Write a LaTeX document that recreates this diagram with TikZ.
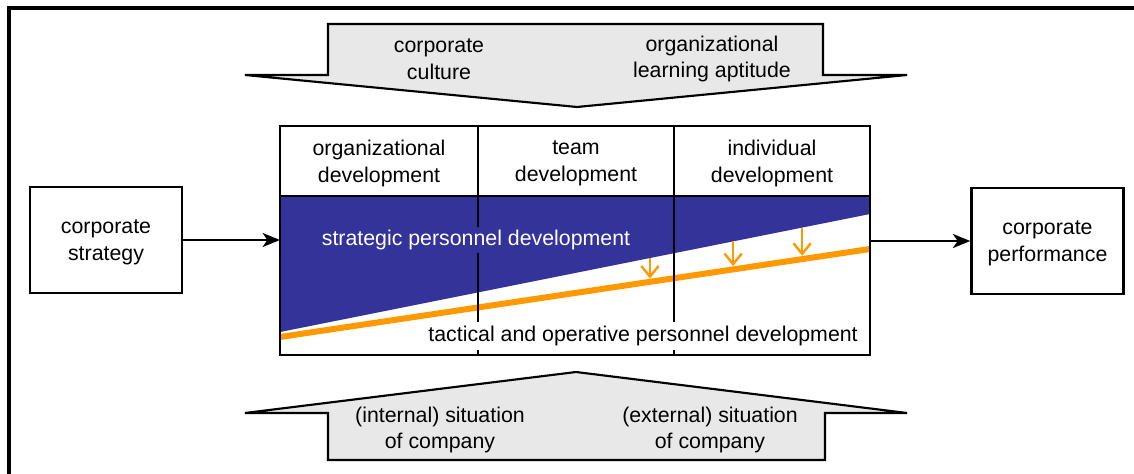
\documentclass[tikz,border=0pt]{standalone}
\usepackage{fontspec}
\setmainfont{Liberation Sans}
\usetikzlibrary{arrows.meta,calc}
\definecolor{stratblue}{RGB}{51,51,153}
\definecolor{tactorange}{RGB}{255,153,0}
\definecolor{influgray}{RGB}{232,232,232}

\begin{document}
\begin{tikzpicture}[x=0.75pt,y=0.75pt,yscale=-1,xscale=1,
		font=\fontsize{16}{20}\selectfont,
		sidebox/.style={draw,line width=1.8pt,align=center,minimum width=114pt,minimum height=79.5pt,text depth=0pt},
		headcell/.style={draw,line width=1.8pt,align=center,minimum height=52.5pt,outer sep=0pt,text depth=0pt},
		influence/.style={draw,line width=1.6pt,fill=influgray},
		influtext/.style={align=center,inner sep=0.75pt},
		flow/.style={line width=1.8pt,-{Stealth[length=13pt,width=10.5pt,inset=3.5pt]}},
		shiftarrow/.style={tactorange,line width=1.8pt,shorten >=2.5pt,-{Straight Barb[length=8pt,width=13pt]}}]
		\useasboundingbox (0,0) rectangle (1134,474);
		\draw [line width=2.4pt] (9,474) -- (9,8) -- (1134,8) ;
		\draw [influence] (328,24) -- (823,24) -- (823,75) -- (907,75) -- (577,107) -- (245,75) -- (328,75) -- cycle ;
		\draw [influence] (328,460) -- (825,460) -- (825,413) -- (907,413) -- (576,372) -- (245,413) -- (328,413) -- cycle ;
		\node [influtext] (culture) at (439,59) {corporate\\culture};
		\node [influtext] (learning) at (712,59) {organizational\\learning aptitude};
		\node [influtext] (intsit) at (440,430) {(internal) situation\\of company};
		\node [influtext] (extsit) at (710,430) {(external) situation\\of company};
		\coordinate (blueL) at (280,332) ;
		\coordinate (blueR) at (870,214) ;
		\coordinate (orL) at (280,337) ;
		\coordinate (orR) at (870,249) ;
		\fill [stratblue] (280,196) -- (870,196) -- (blueR) -- (blueL) -- cycle ;
		\draw [tactorange,line width=4.5pt] (orL) -- (orR) ;
		\foreach \t in {0.627,0.768,0.885}
			\draw [shiftarrow] ($(blueL)!\t!(blueR)$) -- ($(orL)!\t!(orR)$) ;
		\node [headcell,minimum width=148.5pt] (orgdev) at (379,161) {organizational\\development};
		\node [headcell,minimum width=147pt] (teamdev) at (576,161) {team\\development};
		\node [headcell,minimum width=147pt] (inddev) at (772,161) {individual\\development};
		\node [draw,line width=1.8pt,minimum width=442.5pt,minimum height=171.75pt,anchor=north west,inner sep=0pt,outer sep=0pt] (pdbox) at (280,126) {};
		\draw [line width=1.8pt] (orgdev.south east) -- (orgdev.south east |- pdbox.south) ;
		\draw [line width=1.8pt] (teamdev.south east) -- (teamdev.south east |- pdbox.south) ;
		\node [text=white,fill=stratblue,inner sep=2.5pt] (strattext) at (476,240) {strategic personnel development};
		\node [fill=white,inner sep=3pt,anchor=east] (tacttext) at (862,336) {tactical and operative personnel development};
		\node [sidebox] (strat) at (106,240) {corporate\\strategy};
		\node [sidebox] (perf) at (1047.5,241) {corporate\\performance};
		\draw [flow] (strat.east) -- (strat.east -| pdbox.west) ;
		\draw [flow] (perf.west -| pdbox.east) -- (perf.west) ;
\end{tikzpicture}
\end{document}
